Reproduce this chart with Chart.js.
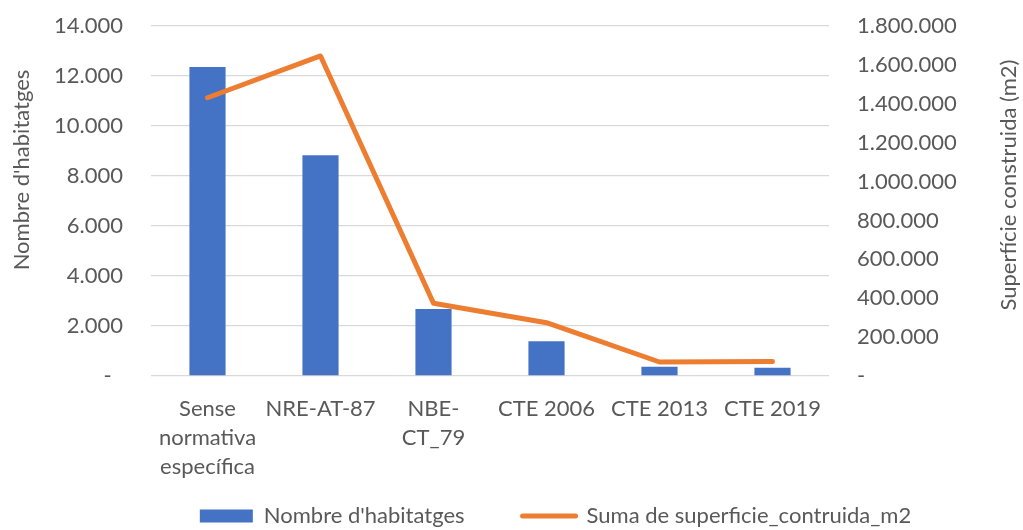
<!DOCTYPE html>
<html>
<head>
<meta charset="utf-8">
<script src="https://cdn.jsdelivr.net/npm/chart.js@4/dist/chart.umd.min.js"></script>
<style>
  html, body { margin: 0; padding: 0; background: #fff; }
  #wrap { width: 1023px; height: 530px; position: relative; }
</style>
</head>
<body>
<div id="wrap"><canvas id="chart"></canvas></div>
<script>
// dades llegides del gràfic
const categories = [['Sense', 'normativa', 'específica'], 'NRE-AT-87', ['NBE-', 'CT_79'], 'CTE 2006', 'CTE 2013', 'CTE 2019'];
const habitatges = [12360, 8830, 2680, 1390, 370, 330];
const superficie = [1431000, 1646000, 374000, 274000, 72000, 74000];
const leftTicks = [0, 2000, 4000, 6000, 8000, 10000, 12000, 14000];
const rightTicks = [0, 200000, 400000, 600000, 800000, 1000000, 1200000, 1400000, 1600000, 1800000];

const BLUE = '#4472C4';
const ORANGE = '#ED7D31';
const GREY = '#595959';
const FONT = 'Lato';
const SIZE = 22;

// format amb punts de milers, zero com a guió
function fmt(v) {
    if (v === 0) return '-';
    return String(v).replace(/\B(?=(\d{3})+(?!\d))/g, '.');
}

// ajustos de posició i títols dels eixos (el de la dreta es llegeix de baix a dalt)
const axisTitles = {
    id: 'axisTitles',
    afterLayout(chart) {
        chart.legend.left += 88;
        chart.legend.top += 7;
        chart.legend.bottom += 7;
        // deixar lloc a les etiquetes de tres línies
        chart.scales.x.bottom += 60;
        chart.scales.x.height += 60;
    },
    afterDraw(chart) {
        const { ctx, chartArea } = chart;
        const mid = (chartArea.top + chartArea.bottom) / 2;
        ctx.save();
        ctx.font = SIZE + 'px ' + FONT;
        ctx.fillStyle = GREY;
        ctx.textAlign = 'center';
        ctx.textBaseline = 'middle';
        ctx.translate(22, mid - 31);
        ctx.rotate(-Math.PI / 2);
        ctx.fillText("Nombre d'habitatges", 0, 0);
        ctx.restore();
        ctx.save();
        ctx.font = SIZE + 'px ' + FONT;
        ctx.fillStyle = GREY;
        ctx.textAlign = 'center';
        ctx.textBaseline = 'middle';
        ctx.translate(1009, mid - 16);
        ctx.rotate(-Math.PI / 2);
        ctx.fillText('Superfície construida (m2)', 0, 0);
        ctx.restore();
    }
};

const ctx = document.getElementById('chart').getContext('2d');
const chart = new Chart(ctx, {
    type: 'bar',
    data: {
        labels: categories,
        datasets: [{
            type: 'bar',
            label: "Nombre d'habitatges",
            data: habitatges,
            backgroundColor: BLUE,
            yAxisID: 'y',
            barPercentage: 0.32,
            categoryPercentage: 1,
            order: 1
        }, {
            type: 'line',
            label: 'Suma de superficie_contruida_m2',
            data: superficie,
            borderColor: ORANGE,
            backgroundColor: ORANGE,
            borderWidth: 5,
            borderCapStyle: 'round',
            borderJoinStyle: 'round',
            pointRadius: 0,
            tension: 0,
            yAxisID: 'y2',
            order: 0
        }]
    },
    options: {
        responsive: true,
        maintainAspectRatio: false,
        animation: false,
        layout: { padding: { top: 26, left: 0, right: 0, bottom: 0 } },
        plugins: {
            tooltip: { enabled: false },
            legend: {
                position: 'bottom',
                labels: {
                    usePointStyle: true,
                    pointStyleWidth: 53,
                    boxHeight: 13,
                    padding: 58,
                    color: GREY,
                    font: { family: FONT, size: SIZE },
                    generateLabels: () => [
                        { text: "Nombre d'habitatges", fillStyle: BLUE, strokeStyle: BLUE, lineWidth: 0, pointStyle: 'rect', datasetIndex: 0, fontColor: GREY },
                        { text: 'Suma de superficie_contruida_m2', fillStyle: ORANGE, strokeStyle: ORANGE, lineWidth: 5, lineCap: 'round', pointStyle: 'line', datasetIndex: 1, fontColor: GREY }
                    ]
                }
            }
        },
        scales: {
            x: {
                grid: { display: false },
                border: { display: false },
                ticks: {
                    color: GREY,
                    font: { family: FONT, size: SIZE, lineHeight: 1.32 },
                    padding: 10,
                    maxRotation: 0,
                    autoSkip: false
                },
                afterFit: s => { s.height = 64; }
            },
            y: {
                position: 'left',
                min: 0,
                max: 14000,
                afterBuildTicks: s => { s.ticks = leftTicks.map(v => ({ value: v })); },
                grid: { color: '#D9D9D9', lineWidth: 1.3, drawTicks: true, tickLength: 26, tickColor: 'rgba(0,0,0,0)' },
                border: { display: false },
                ticks: {
                    color: GREY,
                    font: { family: FONT, size: SIZE },
                    padding: 2,
                    callback: v => v === 0 ? '-  ' : fmt(v)
                },
                afterFit: s => { s.width = 151; }
            },
            y2: {
                position: 'right',
                min: 0,
                max: 1800000,
                afterBuildTicks: s => { s.ticks = rightTicks.map(v => ({ value: v })); },
                grid: { display: true, drawOnChartArea: false, drawTicks: true, tickLength: 26, tickColor: 'rgba(0,0,0,0)' },
                border: { display: false },
                ticks: {
                    color: GREY,
                    font: { family: FONT, size: SIZE },
                    padding: 2,
                    callback: v => fmt(v)
                },
                afterFit: s => { s.width = 194; }
            }
        }
    },
    plugins: [axisTitles]
});
</script>
</body>
</html>
